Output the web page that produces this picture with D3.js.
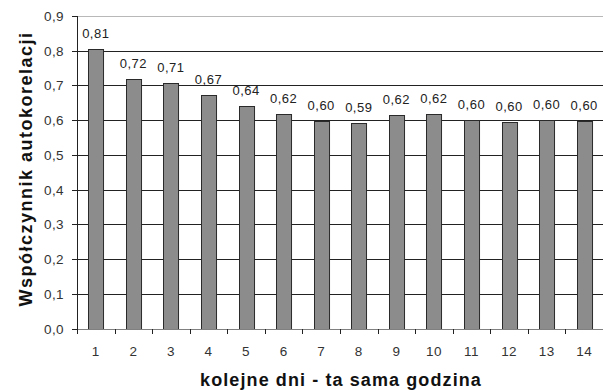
<!DOCTYPE html>
<html>
<head>
<meta charset="utf-8">
<script src="https://cdn.jsdelivr.net/npm/d3@7"></script>
<style>
  html, body { margin: 0; padding: 0; background: #fff; }
  svg { display: block; font-family: "Liberation Sans", Arial, sans-serif; }
</style>
</head>
<body>
<svg id="chart" width="603" height="390"></svg>
<script>
// Kolejne dni (ta sama godzina) i współczynnik autokorelacji
const days = ["1", "2", "3", "4", "5", "6", "7", "8", "9", "10", "11", "12", "13", "14"];
const autocorr = [0.806, 0.718, 0.707, 0.672, 0.640, 0.617, 0.597, 0.592, 0.616, 0.619, 0.601, 0.596, 0.600, 0.598];
const yTicks = [0, 0.1, 0.2, 0.3, 0.4, 0.5, 0.6, 0.7, 0.8, 0.9];

const svg = d3.select("#chart");
const plotLeft = 77, plotRight = 603, plotTop = 16, plotBottom = 328.5;

const x = d3.scaleBand().domain(days).range([plotLeft, plotRight]).paddingInner(0.6).paddingOuter(0.3);
const xEdge = d3.scaleLinear().domain([0, days.length]).range([plotLeft, plotRight]);
const y = d3.scaleLinear().domain([0, 0.9]).range([plotBottom, plotTop]);
const fmt = v => d3.format(".1f")(v).replace(".", ",");
const fmt2 = v => d3.format(".2f")(v).replace(".", ",");

// gridlines
svg.append("g").selectAll("line").data(yTicks.filter(t => t > 0)).join("line")
  .attr("x1", plotLeft).attr("x2", plotRight)
  .attr("y1", d => Math.round(y(d)) + 0.5).attr("y2", d => Math.round(y(d)) + 0.5)
  .attr("stroke", d => d === 0.9 ? "#b8b8b8" : "#222")
  .attr("stroke-width", 1);

// bars
svg.append("g").selectAll("rect").data(autocorr).join("rect")
  .attr("x", (d, i) => Math.round(x(days[i])) + 0.5)
  .attr("y", d => Math.round(y(d)) + 0.5)
  .attr("width", x.bandwidth())
  .attr("height", d => Math.round(plotBottom) - Math.round(y(d)))
  .attr("fill", "#8c8c8c")
  .attr("stroke", "#2a2a2a")
  .attr("stroke-width", 1);

// value labels
svg.append("g").selectAll("text").data(autocorr).join("text")
  .attr("x", (d, i) => x(days[i]) + x.bandwidth() / 2)
  .attr("y", d => y(d) - 11)
  .attr("text-anchor", "middle")
  .attr("font-size", 13)
  .attr("letter-spacing", 0.5)
  .attr("fill", "#222")
  .text(d => fmt2(d));

// y axis
const yAxis = svg.append("g");
yAxis.append("line")
  .attr("x1", plotLeft + 0.5).attr("x2", plotLeft + 0.5)
  .attr("y1", plotTop).attr("y2", Math.round(plotBottom) + 0.5)
  .attr("stroke", "#222");
yAxis.selectAll("line.tick").data(yTicks).join("line").attr("class", "tick")
  .attr("x1", plotLeft - 5).attr("x2", plotLeft)
  .attr("y1", d => Math.round(y(d)) + 0.5).attr("y2", d => Math.round(y(d)) + 0.5)
  .attr("stroke", "#222");
yAxis.selectAll("text").data(yTicks).join("text")
  .attr("x", plotLeft - 13)
  .attr("y", d => y(d) + 5)
  .attr("text-anchor", "end")
  .attr("font-size", 13.5)
  .attr("letter-spacing", 0.4)
  .attr("fill", "#333")
  .text(d => fmt(d));

// x axis
const xAxis = svg.append("g");
xAxis.append("line")
  .attr("x1", plotLeft).attr("x2", plotRight)
  .attr("y1", Math.round(plotBottom) + 0.5).attr("y2", Math.round(plotBottom) + 0.5)
  .attr("stroke", "#808080");
xAxis.selectAll("line.tick").data(d3.range(days.length + 1)).join("line").attr("class", "tick")
  .attr("x1", d => Math.round(xEdge(d)) + 0.5).attr("x2", d => Math.round(xEdge(d)) + 0.5)
  .attr("y1", Math.round(plotBottom)).attr("y2", Math.round(plotBottom) + 5)
  .attr("stroke", "#222");
xAxis.selectAll("text").data(days).join("text")
  .attr("x", d => x(d) + x.bandwidth() / 2)
  .attr("y", 356)
  .attr("text-anchor", "middle")
  .attr("font-size", 13.5)
  .attr("letter-spacing", 0.4)
  .attr("fill", "#333")
  .text(d => d);

// axis titles
svg.append("text")
  .attr("x", 341).attr("y", 386)
  .attr("text-anchor", "middle")
  .attr("font-size", 18).attr("font-weight", "bold")
  .attr("letter-spacing", 1.1)
  .attr("fill", "#111")
  .text("kolejne dni - ta sama godzina");

svg.append("text")
  .attr("transform", "translate(32,169) rotate(-90)")
  .attr("text-anchor", "middle")
  .attr("font-size", 18).attr("font-weight", "bold")
  .attr("letter-spacing", 1.5)
  .attr("fill", "#111")
  .text("Współczynnik autokorelacji");
</script>
</body>
</html>
